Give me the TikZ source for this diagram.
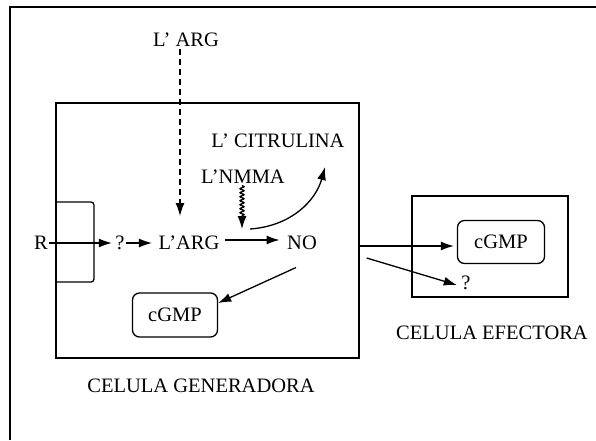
\documentclass[tikz,border=0pt]{standalone}
\usepackage{fontspec}
\setmainfont{Liberation Serif}
\usetikzlibrary{arrows.meta,decorations.pathmorphing,calc}
\begin{document}
\begin{tikzpicture}[x=1pt,y=-1pt,
  line width=1.3pt,
  txt/.style={inner sep=1pt,font=\fontsize{20.5}{22}\selectfont},
  rbox/.style={draw,rounded corners=7pt,inner sep=0pt,font=\fontsize{20.5}{22}\selectfont},
  frame/.style={draw,inner sep=0pt},
  arr/.style={-{Latex[length=13pt,width=9pt]}}]
\useasboundingbox (0,0) rectangle (596,440);
% outer frame (left and top)
\draw (10,440) -- (10,7) -- (596,7);
% cells
\node[frame,minimum width=303pt,minimum height=255pt] (gen) at (207.5,230.5) {};
\node[frame,minimum width=156pt,minimum height=101pt] (eff) at (490,246.5) {};
% receptor
\draw[rounded corners=3pt] (gen.west |- 0,202) -- (94,202) -- (94,282) -- (gen.west |- 0,282);
% texts
\node[txt] (R) at (41,243) {R};
\node[txt] (q1) at (120,243) {?};
\node[txt] (larg) at (189,243) {L’ARG};
\node[txt] (no) at (302,243) {NO};
\node[txt] (largtop) at (186,40) {L’ ARG};
\node[txt] (cit) at (278,141) {L’ CITRULINA};
\node[txt] (nmma) at (243,177) {L’NMMA};
\node[rbox,minimum width=85pt,minimum height=44pt] (cg1) at (175,315) {cGMP};
\node[rbox,minimum width=87pt,minimum height=43pt] (cg2) at (501,242) {cGMP};
\node[txt] (q2) at (466,283) {?};
\node[txt] (lg) at (201,386) {CELULA GENERADORA};
\node[txt] (le) at (492,333) {CELULA EFECTORA};
% connectors
\coordinate (dtip) at (180,216);
\coordinate (wtip) at (242,229);
\coordinate (cstart) at (250,229);
\coordinate (cend) at (325,167);
\draw[arr] (R.east) -- ([xshift=-2pt]q1.west);
\draw[arr] (q1.east) -- ([xshift=-5pt]larg.west);
\draw[arr,dash pattern=on 6pt off 4pt] (largtop.south -| dtip) -- (dtip);
\draw[arr] ([yshift=3pt,xshift=4pt]larg.east) -- ([yshift=3pt,xshift=-6pt]no.west);
\draw[arr,decorate,decoration={snake,amplitude=2pt,segment length=4pt,post length=13pt}] (nmma.south -| wtip) -- (wtip);
\draw[arr] (cstart) .. controls (292,226) and (316,200) .. (cend);
\draw[arr] ([shift={(-6pt,-16pt)}]no.south) -- ([yshift=12pt]cg1.east);
\draw[arr] ([yshift=-4pt]cg2.west -| gen.east) -- ([xshift=-3pt,yshift=-4pt]cg2.west);
\draw[arr] ([shift={(7pt,-27.5pt)}]gen.east) -- ([xshift=-3pt,yshift=-2pt]q2.west);
\end{tikzpicture}
\end{document}
